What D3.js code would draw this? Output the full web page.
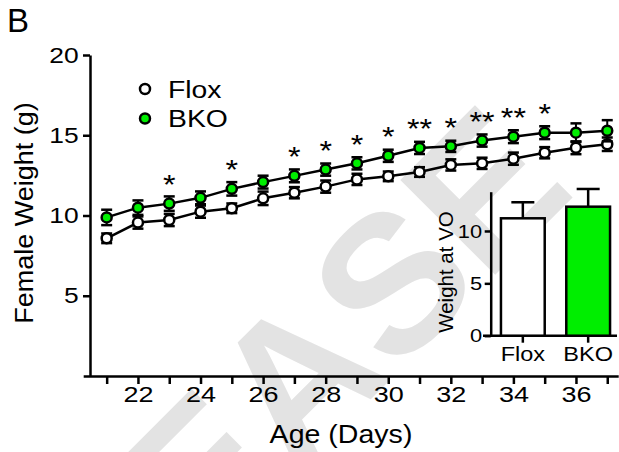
<!DOCTYPE html>
<html>
<head>
<meta charset="utf-8">
<script src="https://cdn.jsdelivr.net/npm/d3@7"></script>
<style>
  body { margin: 0; background: #fff; }
  text { font-family: "Liberation Sans", Arial, sans-serif; fill: #000; }
</style>
</head>
<body>
<div id="chart"></div>
<script>
// data
var days = [21, 22, 23, 24, 25, 26, 27, 28, 29, 30, 31, 32, 33, 34, 35, 36, 37];
var flox = [8.58, 9.56, 9.72, 10.24, 10.45, 11.07, 11.42, 11.80, 12.25, 12.44, 12.71, 13.15, 13.25, 13.54, 13.91, 14.22, 14.44];
var bko  = [9.88, 10.49, 10.74, 11.10, 11.66, 12.08, 12.47, 12.86, 13.25, 13.72, 14.21, 14.31, 14.67, 14.91, 15.16, 15.16, 15.28];
var floxSem = [0.30, 0.38, 0.38, 0.38, 0.30, 0.42, 0.35, 0.38, 0.35, 0.30, 0.30, 0.35, 0.35, 0.38, 0.35, 0.40, 0.42];
var bkoSem  = [0.48, 0.45, 0.45, 0.40, 0.42, 0.40, 0.40, 0.38, 0.38, 0.38, 0.38, 0.35, 0.38, 0.40, 0.40, 0.58, 0.66];
var stars = ["", "", "*", "", "*", "", "*", "*", "*", "*", "**", "*", "**", "**", "*", "", ""];
var yTicks = [5, 10, 15, 20];

// inset: weight at vaginal opening
var groups = ["Flox", "BKO"];
var voMean = [11.21, 12.32];
var voSem = [1.53, 1.69];
var insetTicks = [0, 5, 10];

var colors = { Flox: "#ffffff", BKO: "#00ee00" };
var series = [
  { name: "Flox", values: flox, sem: floxSem },
  { name: "BKO", values: bko, sem: bkoSem }
];

var W = 619, H = 452;
var svg = d3.select("#chart").append("svg")
    .attr("width", W)
    .attr("height", H);

// faint watermark behind everything
svg.append("text")
    .attr("transform", "translate(578,192) rotate(-45)")
    .attr("text-anchor", "end")
    .style("font-size", "195px")
    .style("font-weight", "bold")
    .style("fill", "#e3e3e3")
    .text("RELEASE");

// scales
var x = d3.scaleLinear().domain([20.25, 37.35]).range([83.2, 618.2]);
var y = d3.scaleLinear().domain([0, 20]).range([376, 55]);

// X axis (ticks every day, labels on even days)
var xAxis = svg.append("g")
    .attr("transform", "translate(0," + y(0) + ")")
    .call(d3.axisBottom(x)
      .tickValues(days)
      .tickSize(8)
      .tickSizeOuter(0)
      .tickFormat(function(d) { return d % 2 === 0 ? d : ""; }));
xAxis.select(".domain").attr("stroke-width", 2.5);
xAxis.selectAll(".tick line").attr("stroke-width", 2.5);
xAxis.selectAll(".tick text")
    .attr("y", 10)
    .attr("transform", "scale(1.2,1)")
    .style("font-size", "22.5px");

// Y axis
var yAxis = svg.append("g")
    .attr("transform", "translate(" + 90 + ",0)")
    .call(d3.axisLeft(y)
      .tickValues(yTicks)
      .tickSize(7)
      .tickSizeOuter(0));
yAxis.select(".domain").attr("stroke-width", 2.5);
yAxis.selectAll(".tick line").attr("stroke-width", 2.5);
yAxis.selectAll(".tick text")
    .attr("x", -9.5)
    .attr("transform", "scale(1.2,1)")
    .style("font-size", "22px");

// axis titles
svg.append("text")
    .attr("transform", "translate(33,213) rotate(-90) scale(1.08,1)")
    .attr("text-anchor", "middle")
    .style("font-size", "25px")
    .text("Female Weight (g)");
svg.append("text")
    .attr("transform", "translate(341,443) scale(1.12,1)")
    .attr("text-anchor", "middle")
    .style("font-size", "25.5px")
    .text("Age (Days)");

// panel letter
svg.append("text")
    .attr("x", 7)
    .attr("y", 32)
    .style("font-size", "33px")
    .text("B");

// lines
var line = d3.line()
    .x(function(d, i) { return x(days[i]); })
    .y(function(d) { return y(d); });

svg.append("g").selectAll("path")
    .data(series)
    .enter().append("path")
      .attr("d", function(s) { return line(s.values); })
      .attr("fill", "none")
      .attr("stroke", "#000")
      .attr("stroke-width", 2.5);

// error bars + markers per series
series.forEach(function(s) {
  var g = svg.append("g");
  var pts = g.selectAll("g")
    .data(s.values)
    .enter().append("g");
  pts.append("line")
      .attr("x1", function(d, i) { return x(days[i]); })
      .attr("x2", function(d, i) { return x(days[i]); })
      .attr("y1", function(d, i) { return y(d - s.sem[i]); })
      .attr("y2", function(d, i) { return y(d + s.sem[i]); })
      .attr("stroke", "#000")
      .attr("stroke-width", 2);
  [-1, 1].forEach(function(sign) {
    pts.append("line")
        .attr("x1", function(d, i) { return x(days[i]) - 5.5; })
        .attr("x2", function(d, i) { return x(days[i]) + 5.5; })
        .attr("y1", function(d, i) { return y(d + sign * s.sem[i]); })
        .attr("y2", function(d, i) { return y(d + sign * s.sem[i]); })
        .attr("stroke", "#000")
        .attr("stroke-width", 2.5);
  });
  pts.append("circle")
      .attr("cx", function(d, i) { return x(days[i]); })
      .attr("cy", function(d) { return y(d); })
      .attr("r", 5)
      .attr("fill", colors[s.name])
      .attr("stroke", "#000")
      .attr("stroke-width", 2.5);
});

// significance stars above the BKO points
var starSize = 28;
svg.append("g").selectAll("text")
    .data(stars)
    .enter().append("text")
      .attr("transform", function(d, i) {
        return "translate(" + x(days[i]) + "," + (y(bko[i]) - 26 + 0.58 * starSize) + ") scale(1.15,1)";
      })
      .attr("text-anchor", "middle")
      .style("font-size", starSize + "px")
      .text(function(d) { return d; });

// legend
var legend = svg.append("g").selectAll("g")
    .data(series)
    .enter().append("g")
      .attr("transform", function(d, i) { return "translate(145," + (89 + i * 29.5) + ")"; });
legend.append("circle")
    .attr("r", 5)
    .attr("fill", function(d) { return colors[d.name]; })
    .attr("stroke", "#000")
    .attr("stroke-width", 2.5);
legend.append("text")
    .attr("transform", "translate(23,8.5) scale(1.18,1)")
    .style("font-size", "24px")
    .text(function(d) { return d.name; });

// inset bar chart
var xi = d3.scaleBand()
    .domain(groups)
    .range([490.7, 620.3])
    .paddingInner(0.33)
    .paddingOuter(0.157);
var yi = d3.scaleLinear().domain([0, 13.75]).range([335.7, 191.7]);

var insetY = svg.append("g")
    .attr("transform", "translate(" + 490.7 + ",0)")
    .call(d3.axisLeft(yi).tickValues(insetTicks).tickSize(6).tickSizeOuter(0));
insetY.select(".domain").attr("stroke-width", 2.5);
insetY.selectAll(".tick line").attr("stroke-width", 2.5);
insetY.selectAll(".tick text")
    .attr("x", -7.5)
    .attr("transform", "scale(1.15,1)")
    .style("font-size", "19px");

var insetX = svg.append("g")
    .attr("transform", "translate(0," + yi(0) + ")")
    .call(d3.axisBottom(xi).tickSize(7).tickSizeOuter(0));
insetX.select(".domain")
    .attr("d", "M483,0H617")
    .attr("stroke-width", 2.5);
insetX.selectAll(".tick line").attr("stroke-width", 2.5);
insetX.selectAll(".tick text")
    .attr("y", 10)
    .attr("transform", "scale(1.12,1)")
    .style("font-size", "21px");

var bars = svg.append("g").selectAll("g")
    .data(groups)
    .enter().append("g");
bars.append("line")
    .attr("x1", function(d) { return xi(d) + xi.bandwidth() / 2; })
    .attr("x2", function(d) { return xi(d) + xi.bandwidth() / 2; })
    .attr("y1", function(d, i) { return yi(voMean[i]); })
    .attr("y2", function(d, i) { return yi(voMean[i] + voSem[i]); })
    .attr("stroke", "#000")
    .attr("stroke-width", 2.5);
bars.append("line")
    .attr("x1", function(d) { return xi(d) + xi.bandwidth() / 2 - 11.5; })
    .attr("x2", function(d) { return xi(d) + xi.bandwidth() / 2 + 11.5; })
    .attr("y1", function(d, i) { return yi(voMean[i] + voSem[i]); })
    .attr("y2", function(d, i) { return yi(voMean[i] + voSem[i]); })
    .attr("stroke", "#000")
    .attr("stroke-width", 2.5);
bars.append("rect")
    .attr("x", function(d) { return xi(d); })
    .attr("y", function(d, i) { return yi(voMean[i]); })
    .attr("width", xi.bandwidth())
    .attr("height", function(d, i) { return yi(0) - yi(voMean[i]); })
    .attr("fill", function(d) { return colors[d]; })
    .attr("stroke", "#000")
    .attr("stroke-width", 2.5);

svg.append("text")
    .attr("transform", "translate(453,272) rotate(-90)")
    .attr("text-anchor", "middle")
    .style("font-size", "20.5px")
    .text("Weight at VO");
</script>
</body>
</html>
